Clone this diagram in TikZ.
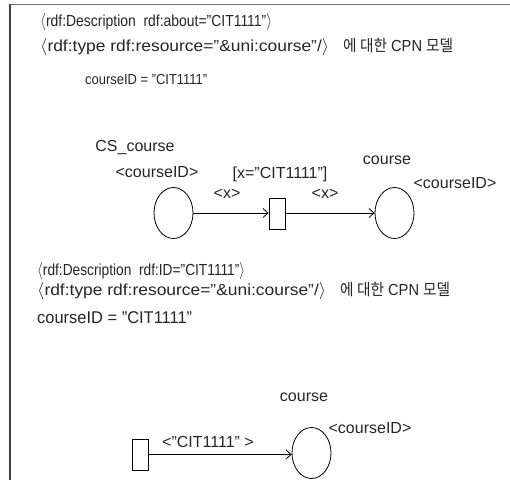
\documentclass[tikz,border=0pt]{standalone}
\usepackage{fontspec}
\usepackage{graphicx}
\setmainfont{Liberation Sans}
\newfontfamily\krfont{Noto Sans CJK KR}
\usetikzlibrary{arrows.meta,shapes.geometric}
\newcommand\fitw[2]{\resizebox{#1}{\height}{#2}}
\tikzset{
  rdftext/.style={anchor=west, inner sep=0pt, text=black!85, font=\fontsize{16}{18}\selectfont},
  lbl/.style={inner sep=0pt, text=black!85, font=\fontsize{16}{18}\selectfont},
  place/.style={draw, ellipse, minimum width=39pt, minimum height=51pt, inner sep=0pt, line width=0.8pt},
  trans/.style={draw, rectangle, minimum width=16pt, minimum height=31pt, inner sep=0pt, line width=0.8pt},
  arc/.style={line width=0.8pt, -{Straight Barb[length=5pt,width=9pt,line width=0.8pt]}},
  frametop/.style={draw=black!55, line width=1.6pt},
  frameleft/.style={draw=black!75, line width=1.6pt}
}
\begin{document}
\begin{tikzpicture}[x=1pt,y=-1pt]
\useasboundingbox (0,0) rectangle (510,480);
\fill[white] (0,0) rectangle (510,480);
\draw[frametop] (9.2,4.5) -- (512,4.5);
\draw[frameleft] (10,480) -- (10,3.7);

% first block
\node[rdftext] (t1) at (40,22) {\fitw{232pt}{$\langle$rdf:Description\ \ rdf:about="CIT1111"$\rangle$}};
\node[rdftext] (t2) at (40,47) {\fitw{289pt}{$\langle$rdf:type rdf:resource="\&uni:course"/$\rangle$}\hspace{14pt}\fitw{110pt}{{\krfont 에 대한} CPN {\krfont 모델}}};
\node[rdftext, font=\fontsize{14.5}{16}\selectfont] (t3) at (85,80) {\fitw{122pt}{courseID = "CIT1111"}};

\node[lbl] (csname) at (135,147) {CS\_course};
\node[lbl] (lcid) at (157,172) {<courseID>};
\node[lbl] (guard) at (280,174) {{[}x="CIT1111"{]}};
\node[lbl] (cname) at (387,160) {course};
\node[lbl] (rcid) at (455,183) {<courseID>};

\node[place] (p1) at (173.5,213) {};
\node[trans] (tr1) at (277,213.5) {};
\node[place] (p2) at (394.5,213) {};
\draw[arc] (p1.east) -- (tr1.west |- p1.east);
\draw[arc] (tr1.east |- p2.west) -- (p2.west);
\node[lbl] (x1) at (227,194) {<x>};
\node[lbl] (x2) at (325,194) {<x>};

% second block
\node[rdftext] (t4) at (37,271) {\fitw{208pt}{$\langle$rdf:Description\ \ rdf:ID="CIT1111"$\rangle$}};
\node[rdftext] (t5) at (37,291) {\fitw{289pt}{$\langle$rdf:type rdf:resource="\&uni:course"/$\rangle$}\hspace{14pt}\fitw{110pt}{{\krfont 에 대한} CPN {\krfont 모델}}};
\node[rdftext, font=\fontsize{17}{19}\selectfont] (t6) at (37,318) {\fitw{155pt}{courseID = "CIT1111"}};

\node[lbl] (cname2) at (304,397) {course};
\node[lbl] (cid2) at (370,428) {<courseID>};
\node[trans] (tr2) at (140.5,454.5) {};
\node[place] (p3) at (311.5,453) {};
\draw[arc] (tr2.east) -- (p3.west |- tr2.east);
\node[lbl] (val) at (208,442) {<"CIT1111" >};
\end{tikzpicture}
\end{document}
